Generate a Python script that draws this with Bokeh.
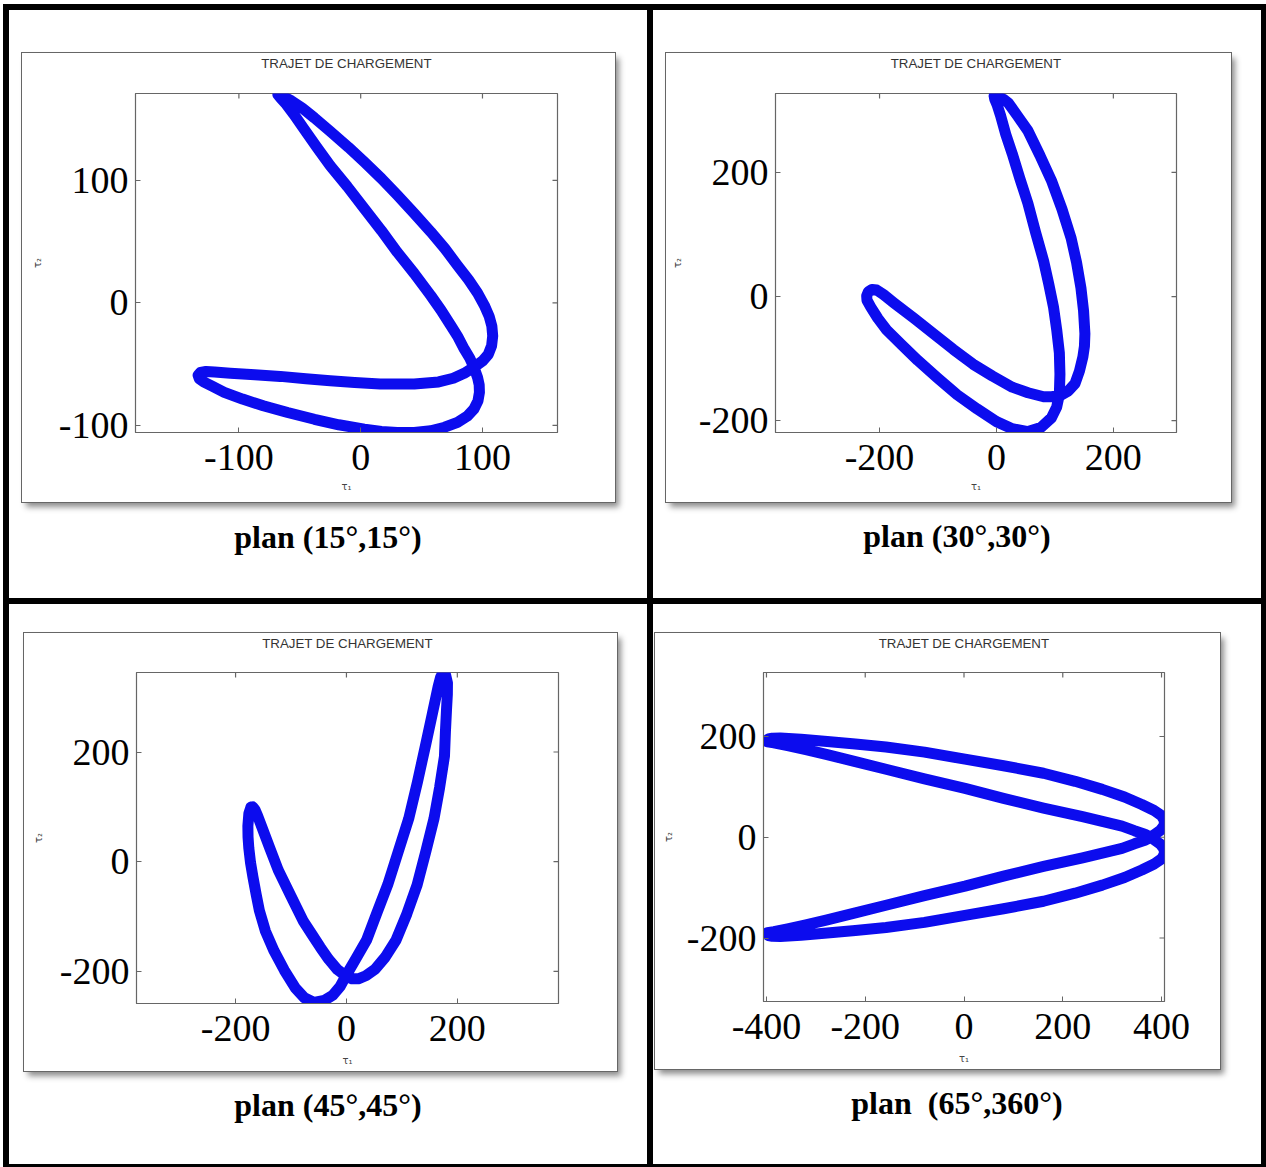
import math
from bokeh.plotting import figure
from bokeh.models import Range1d, FixedTicker, Div, Column, Row, Label
from bokeh.embed import file_html
from bokeh.resources import INLINE

TITLE = "TRAJET DE CHARGEMENT"
X_LABEL = "τ₁"
Y_LABEL = "τ₂"

# ---- plan (15°,15°) ----
tau1_15 = [-68, -64, -57, -48, -38, -25, -10, 3, 17, 30, 44, 57.5, 69, 79.5, 88.5, 96, 101.5, 105.5,
           107.7, 108.4, 107.5, 104.8, 100, 93,
           85, 76, 64, 44, 16, -5, -25, -45, -66, -87, -107, -120, -127, -131.5, -133.5, -132.5, -129,
           -122, -112, -97, -80, -60, -38, -18, 3, 17, 30, 44, 57.5, 69, 79.5, 87.5, 93, 96.3, 97.5,
           97.3, 96, 93,
           89.5, 85, 80, 74, 66, 57.5, 44, 30, 17, 3, -11, -25, -36, -46.6, -55, -61, -65.5, -67.5]
tau2_15 = [170, 168.5, 165, 159, 151, 140, 127, 115, 101.5, 88, 73, 58, 44.5, 30.5, 19, 8, -2, -11,
           -19, -27, -35, -42, -47.5, -52.5,
           -57.5, -61.5, -64.5, -66.2, -66.2, -65, -63.5, -62, -60, -58.7, -57.5, -56.5, -56, -56.8,
           -59, -62, -64.5,
           -68, -73, -78.5, -84, -89.5, -95, -99.5, -103, -105, -105.7, -105.7, -104.4, -101.5, -97.5,
           -92.5, -86.6, -80, -73, -67, -61, -52.5,
           -45, -37.6, -28, -18.5, -6, 6, 24, 41.4, 59, 77, 95, 112, 127, 142, 154, 162, 167, 169.5]
xticks_15 = [-100, 0, 100]
yticks_15 = [-100, 0, 100]

# ---- plan (30°,30°) ----
tau1_30 = [-4, 5, 13, 20, 36, 53.8, 74, 94, 112, 127.7, 137, 144.5, 149, 151.3, 150.5, 147.9, 142,
           134.5, 123, 111,
           96, 80.7, 54, 27, -7, -40, -74, -107.6, -141, -175, -193, -205, -213, -219, -222, -221.5,
           -215, -203, -188, -162, -134.5, -101, -67, -33, 0, 27, 54, 76, 94, 103, 107.6,
           108.6, 107.6, 103, 97.5, 89.5, 80.7, 67, 53.8, 40, 27, 16, 7, 1, -3]
tau2_30 = [323, 321, 317, 312, 291, 267, 228, 187, 141, 94, 55, 14, -23, -60, -80, -97, -120,
           -140, -152, -158.4,
           -161, -161.5, -155, -146, -128, -109, -85, -60, -35, -10.5, 3, 10.5, 11.5, 8, 1, -6,
           -17, -35, -53.6, -78, -103, -131, -158.4, -181, -201.5, -213, -217.5, -211, -195.5, -178,
           -158, -125, -90.6, -53, -16.6, 20, 57.3, 103, 150, 190, 230, 261, 291.5, 309, 318]
xticks_30 = [-200, 0, 200]
yticks_30 = [-200, 0, 200]

# ---- plan (45°,45°) ----
tau1_45 = [-172.3, -176, -177.8, -177.5, -176.1, -173, -168.5, -163, -157.1, -146, -130.6, -112,
           -92.6, -76, -58.4, -40, -24.3, -11, 0, 18, 36.4, 55, 74.4, 93, 112.3, 128, 142.7, 155,
           165.5, 170, 174, 179, 182.2, 182, 180.6, 178.5, 176.8, 168, 157.9, 143, 127.5, 109,
           89.6, 70, 51.6, 35, 21.3, 9.9, -3, -16.7, -32, -47.1, -62, -77.4, -100, -123, -138,
           -153.3, -160, -165, -169]
tau2_45 = [99.5, 88, 65, 45, 24.8, -2, -28.8, -59, -89.1, -127, -162.8, -198,
           -229.8, -248, -256.6, -253, -243.2, -227, -206.4, -175, -142.7, -93, -42.2, 17, 78.4,
           145, 212.4, 270, 319.6, 337, 344, 340, 326, 305, 279.4, 236, 192.3, 135, 78.4, 18,
           -42.2, -95, -142.7, -174, -196.3, -208, -213.5, -213.5, -207, -196.3, -178, -156.1,
           -133, -109.2, -63, -15.4, 24, 65, 83, 95, 100]
xticks_45 = [-200, 0, 200]
yticks_45 = [-200, 0, 200]

# ---- plan (65°,360°) ----
tau1_65 = [-401, -396, -388, -372, -330, -277, -220, -158, -80, 2, 80, 161, 225, 280, 325, 360,
           385, 400, 406, 405, 398, 388, 378,
           366, 345, 320, 240, 161, 80, 2, -80, -158, -220, -277, -320, -357, -385, -398,
           -401, -396, -388, -372, -330, -277, -220, -158, -80, 2, 80, 161, 225, 280, 325, 360,
           385, 400, 406, 405, 398, 388, 378,
           366, 345, 320, 240, 161, 80, 2, -80, -158, -220, -277, -320, -357, -385, -398]
tau2_65 = [191, 195, 196.5, 197, 194.5, 190, 185, 179, 169, 155, 142, 127, 111, 95, 80, 65,
           53, 43, 33, 23, 14, 7, 0,
           -6, -13, -22, -41, -58, -77, -97, -116, -135, -150, -164, -174, -182, -187.5, -189.5,
           -191, -195, -196.5, -197, -194.5, -190, -185, -179, -169, -155, -142, -127, -111, -95,
           -80, -65, -53, -43, -33, -23, -14, -7, 0,
           6, 13, 22, 41, 58, 77, 97, 116, 135, 150, 164, 174, 182, 187.5, 189.5]
xticks_65 = [-400, -200, 0, 200, 400]
yticks_65 = [-200, 0, 200]

captions = ["plan (15°,15°)", "plan (30°,30°)", "plan (45°,45°)", "plan\u00a0 (65°,360°)"]

BLUE = "#0c0cee"
AX = "#666666"
SERIF = "Liberation Serif"
TITLE_H = 20


def title_strip(w, l, r):
    # a thin canvas whose frame lines up with the axes box below it; it only carries the title
    t = figure(width=w, height=TITLE_H, x_range=Range1d(0, 1), y_range=Range1d(0, 1),
               output_backend="svg", toolbar_location=None, x_axis_type=None, y_axis_type=None,
               min_border_left=l, min_border_right=r, min_border_top=0, min_border_bottom=0,
               background_fill_color="white", border_fill_color="white", margin=(0, 0, 0, 0))
    t.outline_line_color = None
    t.grid.visible = False
    t.add_layout(Label(x=0.5, y=0.5, text=TITLE, text_align="center", text_baseline="middle",
                       text_font="Liberation Sans", text_font_size="13.3px",
                       text_color="#333333"))
    return t


def make_window(t1, t2, xr, yr, xt, yt, w, h, borders, margin, ylab_so, xlab_so):
    l, r, t, b = borders
    p = figure(width=w, height=h - TITLE_H, x_range=Range1d(*xr), y_range=Range1d(*yr),
               output_backend="svg", toolbar_location=None,
               min_border_left=l, min_border_right=r, min_border_top=t - TITLE_H,
               min_border_bottom=b, background_fill_color="white", border_fill_color="white",
               margin=(0, 0, 0, 0))
    p.grid.visible = False
    p.outline_line_color = AX
    p.outline_line_width = 1.2

    xa = p.xaxis[0]
    ya = p.yaxis[0]
    xa.ticker = FixedTicker(ticks=xt)
    ya.ticker = FixedTicker(ticks=yt)
    xa.major_label_overrides = {v: str(v) for v in xt}
    ya.major_label_overrides = {v: str(v) for v in yt}
    for ax in (xa, ya):
        ax.major_tick_in = 5
        ax.major_tick_out = 0
        ax.minor_tick_line_color = None
        ax.axis_line_color = AX
        ax.major_tick_line_color = AX
        ax.major_label_text_font = SERIF
        ax.major_label_text_font_size = "38px"
        ax.major_label_text_color = "#000000"
        ax.axis_label_text_font = "DejaVu Sans"
        ax.axis_label_text_font_size = "10px"
        ax.axis_label_text_font_style = "normal"
        ax.axis_label_text_color = "#444444"
    xa.axis_label = X_LABEL
    ya.axis_label = Y_LABEL
    xa.major_label_standoff = 12
    ya.major_label_standoff = 7
    xa.axis_label_standoff = xlab_so
    ya.axis_label_standoff = ylab_so

    # mirrored inward ticks on the top and right edges of the box (half clipped by the frame)
    p.scatter(xt, [yr[1]] * len(xt), marker="dash", angle=math.pi / 2, size=10,
              line_color=AX, line_width=1.2)
    p.scatter([xr[1]] * len(yt), yt, marker="dash", size=10, line_color=AX, line_width=1.2)

    p.line(list(t1) + [t1[0]], list(t2) + [t2[0]], line_width=11, line_color=BLUE,
           line_join="round", line_cap="round")

    win = Column(children=[title_strip(w, l, r), p], width=w, height=h, margin=margin,
                 styles={"background-color": "white", "outline": "1px solid #666666",
                         "box-shadow": "4px 5px 6px rgba(0,0,0,0.45)"})
    return win


def caption(text, cw, mt):
    html = ('<div style="width:%dpx;text-align:center;font-family:\'Liberation Serif\',\'Times New Roman\',serif;'
            'font-weight:bold;font-size:32px;line-height:36px;color:#000;white-space:pre">%s</div>' % (cw, text))
    return Div(text=html, width=cw, height=36, margin=(mt, 0, 0, 0))


w1 = make_window(tau1_15, tau2_15, (-184.9, 161.6), (-105.8, 170.9), xticks_15, yticks_15,
                 593, 449, (113, 58, 40, 70), (43, 0, 0, 13), 13, 8)
w2 = make_window(tau1_30, tau2_30, (-378, 308), (-219, 327), xticks_30, yticks_30,
                 565, 449, (109, 55, 40, 70), (43, 0, 0, 13), 13, 8)
w3 = make_window(tau1_45, tau2_45, (-378.7, 382.5), (-258.6, 345), xticks_45, yticks_45,
                 593, 438, (112, 59, 39, 68), (29, 0, 0, 15), 13, 11)
w4 = make_window(tau1_65, tau2_65, (-406, 406), (-326, 327), xticks_65, yticks_65,
                 565, 436, (108, 56, 39, 68), (29, 0, 0, 2), 10, 11)

WHITE = {"background-color": "white"}
c1 = Column(children=[w1, caption(captions[0], 638, 17)], width=638, height=588, styles=WHITE)
c2 = Column(children=[w2, caption(captions[1], 608, 16)], width=608, height=588, styles=WHITE)
c3 = Column(children=[w3, caption(captions[2], 638, 16)], width=638, height=560, styles=WHITE)
c4 = Column(children=[w4, caption(captions[3], 608, 16)], width=608, height=560, styles=WHITE)

row_top = Row(children=[c1, c2], spacing=6, margin=(6, 0, 0, 6))
row_bot = Row(children=[c3, c4], spacing=6, margin=(6, 0, 0, 6))
root = Column(children=[row_top, row_bot], width=1263, height=1163, margin=(4, 0, 0, 3),
              styles={"background-color": "black"})

open("out.html", "w").write(file_html(root, INLINE))
